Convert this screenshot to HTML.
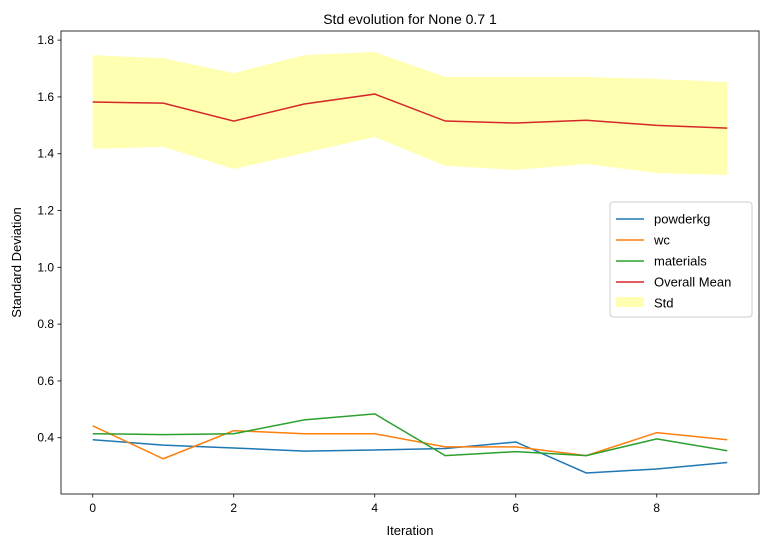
<!DOCTYPE html>
<html><head><meta charset="utf-8"><style>
body{margin:0;background:#fff;font-family:"Liberation Sans","DejaVu Sans",sans-serif}
</style></head><body>
<svg id="c" width="768" height="547" xmlns="http://www.w3.org/2000/svg" font-family="Liberation Sans, DejaVu Sans, sans-serif"></svg>
<script>
const iterations=[0,1,2,3,4,5,6,7,8,9];
const powderkg=[0.393,0.374,0.364,0.353,0.357,0.362,0.385,0.276,0.290,0.313];
const wc=[0.442,0.326,0.425,0.414,0.414,0.368,0.368,0.337,0.418,0.393];
const materials=[0.414,0.411,0.414,0.463,0.484,0.337,0.351,0.337,0.396,0.354];
const overallMean=[1.582,1.578,1.515,1.575,1.610,1.515,1.508,1.518,1.500,1.490];
const stdUpper=[1.747,1.736,1.684,1.747,1.758,1.670,1.670,1.670,1.663,1.652];
const stdLower=[1.417,1.424,1.346,1.403,1.459,1.357,1.343,1.364,1.332,1.325];
const yTicks=[0.4,0.6,0.8,1.0,1.2,1.4,1.6,1.8];
const xTicks=[0,2,4,6,8];
const L=61,R=759,T=31,B=494;
const all=[...powderkg,...wc,...materials,...stdUpper,...stdLower];
const mn=Math.min(...all),mx=Math.max(...all),pad=(mx-mn)*0.05;
const y0=mn-pad,y1=mx+pad;
const x=v=>L+(v+0.45)/9.9*(R-L);
const y=v=>B-(v-y0)/(y1-y0)*(B-T);
const svg=document.getElementById('c');
const NS='http://www.w3.org/2000/svg';
function mk(t,a,txt){const e=document.createElementNS(NS,t);for(const k in a)e.setAttribute(k,a[k]);if(txt!==undefined)e.textContent=txt;svg.appendChild(e);return e;}
// band
let pts=iterations.map((v,i)=>x(v)+','+y(stdUpper[i])).concat(iterations.slice().reverse().map((v,j)=>{const i=iterations.length-1-j;return x(v)+','+y(stdLower[i]);}));
let band=mk('polygon',{points:pts.join(' '),fill:'#ffff00','fill-opacity':0.3});


const series=[[powderkg,'#1f77b4','powderkg'],[wc,'#ff7f0e','wc'],[materials,'#2ca02c','materials'],[overallMean,'#d62728','overall-mean']];
series.forEach(([d,c,n])=>{const p=mk('polyline',{points:iterations.map((v,i)=>x(v)+','+y(d[i])).join(' '),fill:'none',stroke:c,'stroke-width':1.5});

});
const ax=mk('rect',{x:L,y:T,width:R-L,height:B-T,fill:'none',stroke:'#000','stroke-width':0.8});


yTicks.forEach(v=>{mk('line',{x1:L-3.5,x2:L,y1:y(v),y2:y(v),stroke:'#000','stroke-width':0.8});
const t=mk('text',{x:L-7,y:y(v)+4,'text-anchor':'end','font-size':12},v.toFixed(1));

});
xTicks.forEach(v=>{mk('line',{x1:x(v),x2:x(v),y1:B,y2:B+3.5,stroke:'#000','stroke-width':0.8});
const t=mk('text',{x:x(v),y:B+18,'text-anchor':'middle','font-size':12},String(v));

});
let e;
e=mk('text',{x:(L+R)/2,y:535,'text-anchor':'middle','font-size':13},'Iteration');

e=mk('text',{x:21,y:(T+B)/2,'text-anchor':'middle','font-size':13,transform:`rotate(-90 21 ${(T+B)/2})`},'Standard Deviation');

e=mk('text',{x:(L+R)/2,y:24,'text-anchor':'middle','font-size':14},'Std evolution for None 0.7 1');

// legend
e=mk('rect',{x:610,y:202,width:142,height:115,rx:3,fill:'#fff','fill-opacity':0.8,stroke:'#ccc'});

const leg=[['powderkg','#1f77b4'],['wc','#ff7f0e'],['materials','#2ca02c'],['Overall Mean','#d62728']];
leg.forEach(([n,c],i)=>{const yy=219+i*21;
mk('line',{x1:616,x2:644,y1:yy,y2:yy,stroke:c,'stroke-width':1.5});
const t=mk('text',{x:654,y:yy+4.5,'font-size':13},n);
});
mk('rect',{x:616,y:297,width:28,height:10,fill:'#ffff00','fill-opacity':0.3});
e=mk('text',{x:654,y:307.5,'font-size':13},'Std');

</script>
</body></html>
